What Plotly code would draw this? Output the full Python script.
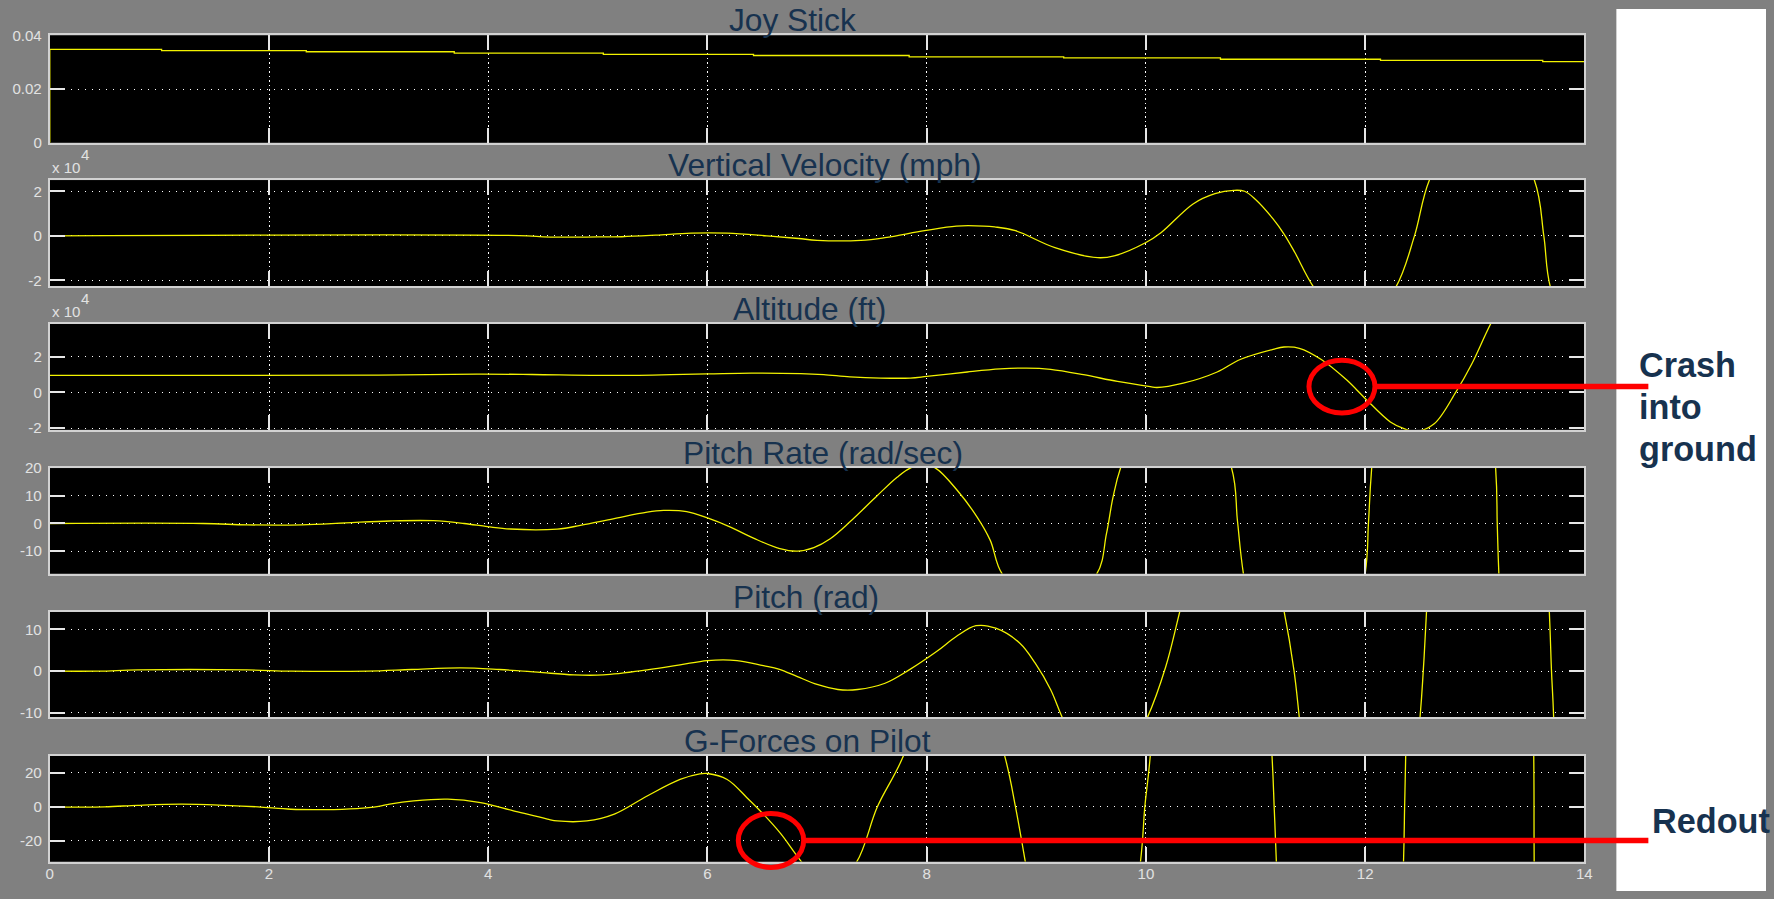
import plotly.graph_objects as go

# figure size, and how the page maps figure pixels onto the window
W, H = 1774, 899
X_OFF, X_SCALE = 3.2, 0.9935
Y_OFF, Y_SCALE = 8 * H / (H + 16), H / (H + 16)

# ---------------- simulation traces ----------------
# time axis (s) shared by all panels
t_ticks = [0, 2, 4, 6, 8, 10, 12, 14]

joy_t = [0, 0, 1.02, 2.34, 3.69, 5.05, 6.42, 7.84, 9.25, 10.68, 12.14, 13.62, 14.0]
joy_v = [0, 0.0348, 0.0343, 0.0339, 0.0334, 0.0329, 0.0325, 0.0320, 0.0316, 0.0311, 0.0307, 0.0302, 0.0302]

# vertical velocity, in units of 1e4 mph
vv_t = [0, 4.36, 4.5, 5.0, 5.22, 5.53, 5.85, 6.18, 6.54, 6.83, 7.0, 7.4, 7.62, 7.98, 8.27,
        8.52, 8.62, 8.81, 9.17, 9.56, 9.71, 10.0, 10.14, 10.43, 10.63, 10.8, 10.9, 11.0, 11.16,
        11.26, 11.36, 11.53, 11.9, 12.28, 12.45, 12.59, 13.05, 13.54, 13.63, 13.69, 14.0]
vv_v = [0, 0, -0.05, -0.05, -0.04, 0.03, 0.12, 0.12, 0.0, -0.12, -0.2, -0.2, -0.08, 0.23, 0.44,
        0.44, 0.40, 0.23, -0.53, -0.98, -0.9, -0.3, 0.15, 1.43, 1.89, 2.04, 2.0, 1.63, 0.76,
        0.08, -0.76, -2.3, -4.6, -2.3, 0.0, 2.55, 6.5, 2.55, 0.0, -2.3, -6.0]

# altitude, in units of 1e4 ft
alt_t = [0, 3.0, 3.9, 4.4, 5.0, 5.5, 6.0, 6.4, 6.85, 7.06, 7.30, 7.58, 7.85, 8.0, 8.37, 8.67,
         8.91, 9.13, 9.43, 9.74, 10.04, 10.10, 10.34, 10.65, 10.86, 11.16, 11.26, 11.40, 11.60,
         11.83, 12.0, 12.23, 12.36, 12.46, 12.63, 12.83, 12.97, 13.15, 13.6, 14.0]
alt_v = [0.95, 0.96, 1.02, 1.0, 0.95, 0.97, 1.03, 1.08, 1.05, 0.99, 0.87, 0.80, 0.80, 0.89, 1.14,
         1.31, 1.36, 1.29, 0.99, 0.61, 0.32, 0.27, 0.51, 1.14, 1.84, 2.41, 2.54, 2.47, 1.84,
         0.70, -0.34, -1.66, -2.05, -2.19, -1.76, 0.04, 1.56, 3.9, 9.0, 14.0]

pr_t = [0, 1.4, 1.8, 2.3, 2.7, 3.1, 3.5, 3.78, 3.99, 4.2, 4.63, 4.84, 5.14, 5.45, 5.60, 5.81,
        6.0, 6.21, 6.42, 6.66, 6.82, 6.97, 7.12, 7.30, 7.55, 7.73, 7.85, 7.96, 8.08, 8.28, 8.46,
        8.58, 8.69, 9.1, 9.55, 9.64, 9.70, 9.77, 10.25, 10.78, 10.835, 10.89, 11.4, 12.0, 12.03,
        12.06, 12.6, 13.19, 13.205, 13.22, 13.8, 14.0]
pr_v = [0, 0, -0.5, -0.5, 0.2, 0.9, 1.0, 0, -1.1, -2.0, -2.0, -0.7, 1.7, 4.1, 4.7, 4.3,
        2.0, -1.3, -5.3, -9.1, -10.0, -8.7, -5.5, 0.6, 10.1, 16.7, 20.0, 21.0, 20.0, 11.9, 2.3,
        -6.1, -18.3, -33, -18.3, -3.7, 9.5, 20.2, 64, 20.2, 1.0, -18.3, -128, -18.3, 0,
        20.2, 240, 20.2, 0, -18.3, -480, -300]

pitch_t = [0, 0.45, 0.8, 1.8, 2.2, 2.9, 3.3, 3.75, 4.1, 4.45, 4.78, 5.05, 5.45, 5.75, 6.0,
           6.27, 6.51, 6.65, 6.82, 7.0, 7.19, 7.37, 7.62, 7.84, 8.09, 8.27, 8.45, 8.63, 8.85,
           8.99, 9.13, 9.24, 9.6, 10.01, 10.18, 10.31, 10.8, 11.26, 11.35, 11.40, 11.95, 12.50,
           12.53, 12.56, 13.1, 13.68, 13.70, 13.72, 14.0]
pitch_v = [0, 0, 0.3, 0.3, 0, 0, 0.4, 0.8, 0.4, -0.25, -0.9, -0.9, 0.3, 1.5, 2.55,
           2.55, 1.3, 0.5, -1.3, -3.2, -4.4, -4.4, -2.9, 0.3, 4.7, 8.3, 10.9, 10.3, 6.7,
           1.9, -4.4, -11.3, -31, -11.3, 1.0, 14.4, 67, 14.4, 0.3, -11.3, -157, -11.3,
           0, 14.4, 330, 14.4, 0, -11.3, -300]

g_t = [0, 0.5, 0.8, 1.2, 1.6, 1.9, 2.2, 2.5, 2.8, 3.0, 3.1, 3.32, 3.63, 3.93, 4.23, 4.54,
       4.63, 4.90, 5.15, 5.45, 5.75, 5.93, 6.0, 6.18, 6.36, 6.51, 6.67, 6.86, 7.1, 7.36, 7.55,
       7.79, 8.25, 8.71, 8.81, 8.90, 9.45, 9.95, 9.99, 10.04, 10.6, 11.15, 11.17, 11.19, 11.75,
       12.35, 12.36, 12.37, 12.95, 13.538, 13.542, 14.0]
g_v = [0, 0, 0.9, 1.6, 0.9, 0, -1.4, -1.6, -1.0, 0.3, 1.6, 3.5, 4.5, 2.5, -2.3, -7.2,
       -8.3, -8.3, -4.3, 6.4, 16.1, 19.4, 19.6, 16.1, 5.4, -4.3, -15.9, -32.5, -50, -32.5, 0,
       30.3, 120, 30.3, 0, -32.5, -250, -32.5, 0, 30.3, 570, 30.3, 0, -32.5, -1150,
       -32.5, 0, 30.3, 2300, 30.3, -32.5, -3000]

titles = ["Joy Stick", "Vertical Velocity (mph)", "Altitude (ft)",
          "Pitch Rate (rad/sec)", "Pitch (rad)", "G-Forces on Pilot"]
y_ranges = [[0, 0.04], [-2.26, 2.5], [-2.1, 3.83], [-18.1, 20], [-11.1, 14.2], [-32.2, 30.1]]
y_ticks = [[0, 0.02, 0.04], [-2, 0, 2], [-2, 0, 2], [-10, 0, 10, 20], [-10, 0, 10], [-20, 0, 20]]
y_ticktext = [["0", "0.02", "0.04"], ["-2", "0", "2"], ["-2", "0", "2"],
              ["-10", "0", "10", "20"], ["-10", "0", "10"], ["-20", "0", "20"]]

series = [(joy_t, joy_v, "hv"), (vv_t, vv_v, "spline"), (alt_t, alt_v, "spline"),
          (pr_t, pr_v, "spline"), (pitch_t, pitch_v, "spline"), (g_t, g_v, "spline")]

# ---------------- page geometry (window pixels) ----------------
plot_left, plot_right = 49, 1584
panel_top = [34.3, 179.2, 323.3, 467.6, 611.7, 755.6]
panel_bot = [141.7, 285.5, 429.3, 573.3, 717.3, 861.7]
title_left = [726.5, 665, 730.7, 680, 730, 681]
window_right = 1616

GRAY = "#808080"
TRACE = "#F2F200"
FRAME = "#D2D2D2"
TICKC = "#E6E6E6"
LABELC = "#E2E2E2"
NAVY = "#17324F"
FONT = "Liberation Sans"
FS = 1 / X_SCALE  # font scale


def px(x):
    return ((x - X_OFF) / X_SCALE) / W


def py(y):
    return 1 - ((y - Y_OFF) / Y_SCALE) / H


fig = go.Figure()

for i, (tt, vv, shape) in enumerate(series):
    n = i + 1
    line = dict(color=TRACE, width=1.3, shape=shape)
    if shape == "spline":
        line["smoothing"] = 1.0
    fig.add_trace(go.Scatter(x=tt, y=vv, mode="lines", line=line,
                             xaxis=f"x{n}", yaxis=f"y{n}", hoverinfo="skip"))

layout = dict(
    width=W, height=H, autosize=False,
    margin=dict(l=0, r=0, t=0, b=0, pad=0),
    paper_bgcolor=GRAY, plot_bgcolor="black",
    showlegend=False,
)

tick_font = dict(family=FONT, size=15 * FS, color=LABELC)
for i in range(6):
    n = i + 1
    xa = dict(
        domain=[px(plot_left), px(plot_right)], range=[0, 14], anchor=f"y{n}",
        tickvals=t_ticks, ticktext=[str(v) for v in t_ticks],
        showticklabels=(n == 6), ticks="inside", ticklen=15, tickwidth=2, tickcolor=TICKC,
        showline=True, mirror="ticks", linecolor=FRAME, linewidth=2,
        showgrid=True, gridcolor="white", gridwidth=1, griddash="1.5px,3px",
        zeroline=False, tickfont=tick_font, ticklabelstandoff=-3, fixedrange=True,
    )
    ya = dict(
        domain=[py(panel_bot[i]), py(panel_top[i])], range=y_ranges[i], anchor=f"x{n}",
        tickvals=y_ticks[i], ticktext=y_ticktext[i],
        ticks="inside", ticklen=15, tickwidth=2, tickcolor=TICKC,
        showline=True, mirror="ticks", linecolor=FRAME, linewidth=2,
        showgrid=True, gridcolor="white", gridwidth=1, griddash="1.5px,5.5px",
        zeroline=False, tickfont=tick_font, ticklabelstandoff=3, fixedrange=True,
    )
    layout["xaxis" if n == 1 else f"xaxis{n}"] = xa
    layout["yaxis" if n == 1 else f"yaxis{n}"] = ya

fig.update_layout(**layout)

# white slide area to the right of the gray figure window
fig.add_shape(type="rect", xref="paper", yref="paper", x0=px(window_right), x1=1, y0=0, y1=1,
              fillcolor="white", line=dict(width=0), layer="below")

annotations = []
for i, txt in enumerate(titles):
    annotations.append(dict(text=txt, xref="paper", yref="paper", x=px(title_left[i]),
                            y=py(panel_top[i] - 15), xanchor="left", yanchor="middle",
                            showarrow=False, font=dict(family=FONT, size=31.5 * FS, color=NAVY)))

# exponent markers for the 1e4-scaled panels
for i in (1, 2):
    annotations.append(dict(text="x 10", xref="paper", yref="paper", x=px(49), y=py(panel_top[i] - 13),
                            xanchor="left", yanchor="middle", showarrow=False,
                            font=dict(family=FONT, size=15 * FS, color=LABELC)))
    annotations.append(dict(text="4", xref="paper", yref="paper", x=px(84), y=py(panel_top[i] - 26),
                            xanchor="center", yanchor="middle", showarrow=False,
                            font=dict(family=FONT, size=15 * FS, color=LABELC)))

# call-outs
callouts = [("Crash", 1637, 364), ("into", 1637, 406), ("ground", 1637, 448), ("Redout", 1650, 821)]
for txt, x, y in callouts:
    annotations.append(dict(text=f"<b>{txt}</b>", xref="paper", yref="paper", x=px(x), y=py(y),
                            xanchor="left", yanchor="middle", showarrow=False,
                            font=dict(family=FONT, size=34 * FS, color=NAVY)))

fig.update_layout(annotations=annotations)

RED = "#FF0000"
rings = [(1341.5, 386, 33, 26.5, 1648), (770.4, 840.5, 32.7, 27, 1648)]
for cx, cy, rx, ry, x_end in rings:
    fig.add_shape(type="circle", xref="paper", yref="paper",
                  x0=px(cx - rx), x1=px(cx + rx), y0=py(cy + ry), y1=py(cy - ry),
                  line=dict(color=RED, width=5), layer="above")
    fig.add_shape(type="line", xref="paper", yref="paper",
                  x0=px(cx + rx + 2), x1=px(x_end), y0=py(cy), y1=py(cy),
                  line=dict(color=RED, width=5.5), layer="above")

fig.write_html("out.html")
